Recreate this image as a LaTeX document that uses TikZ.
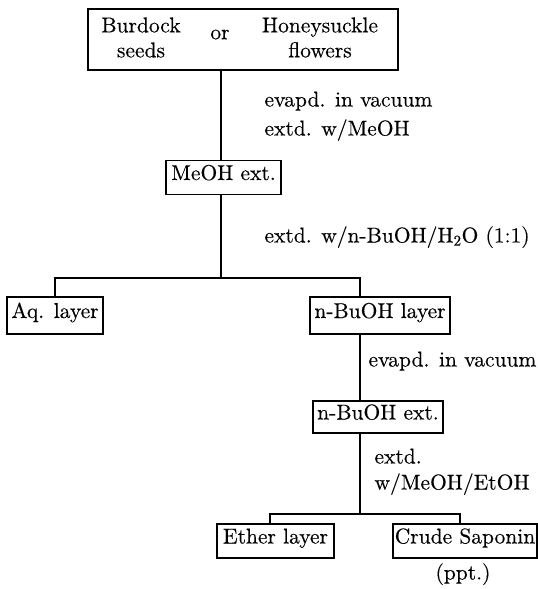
\documentclass[tikz,border=0pt]{standalone}
\usepackage{fontspec}
\setmainfont{lmroman10-regular.otf}[FakeBold=0.3]
\begin{document}
\begin{tikzpicture}[x=1pt,y=-1pt, line width=1.1pt,
  every node/.style={font=\fontsize{21.5}{25}\selectfont},
  box/.style={draw, inner sep=0pt, minimum height=34pt, text height=0.7em, text depth=0.2em},
  lbl/.style={anchor=west, inner sep=0pt, text height=0.7em, text depth=0.2em},
  txt/.style={inner sep=0pt, align=center}]
\useasboundingbox (0,0) rectangle (538,589);
% top box
\node[box, minimum width=310pt, minimum height=61pt] (top) at (243,39.5) {};
\node[txt] (burdock) at (141,37.5) {Burdock\\seeds};
\node[txt, text height=0.45em, text depth=0pt] (or) at (220,37) {or};
\node[txt] (honey) at (320,37.5) {Honeysuckle\\flowers};
% boxes
\node[box, minimum width=115pt] (meoh) at (223.5,177.5) {MeOH ext.};
\node[box, minimum width=96pt, minimum height=37pt] (aq) at (55,315.5) {Aq. layer};
\node[box, minimum width=140pt, minimum height=37pt] (nbl) at (380,315.5) {n-BuOH layer};
\node[box, minimum width=130pt, minimum height=32pt] (nbe) at (378,417) {n-BuOH ext.};
\node[box, minimum width=117pt] (ether) at (275.5,541) {Ether layer};
\node[box, minimum width=144pt] (crude) at (465,541) {Crude Saponin};
% labels
\node[lbl] (l1) at (264,104) {evapd. in vacuum};
\node[lbl] (l2) at (264,133) {extd. w/MeOH};
\node[lbl] (l3) at (264,240) {extd. w/n-BuOH/H\textsubscript{2}O (1:1)};
\node[lbl] (l4) at (368,364) {evapd. in vacuum};
\node[lbl] (l5) at (374,461) {extd.};
\node[lbl] (l6) at (374,487) {w/MeOH/EtOH};
\node[inner sep=0pt, text height=0.7em, text depth=0.2em] (ppt) at (463,577) {(ppt.)};
% junctions
\coordinate (v1) at (221,278);
\coordinate (h1l) at (55,278);
\coordinate (h1r) at (360,278);
\coordinate (v2) at (360,514);
\coordinate (h2l) at (270,514);
\coordinate (h2r) at (460,514);
% connectors
\draw (top.south -| v1) -- (meoh.north -| v1);
\draw (meoh.south -| v1) -- (v1);
\draw (aq.north -| h1l) -- (h1l) -- (h1r) -- (nbl.north -| h1r);
\draw (nbl.south -| h1r) -- (nbe.north -| h1r);
\draw (nbe.south -| v2) -- (v2);
\draw (ether.north -| h2l) -- (h2l) -- (h2r) -- (crude.north -| h2r);
\end{tikzpicture}
\end{document}
